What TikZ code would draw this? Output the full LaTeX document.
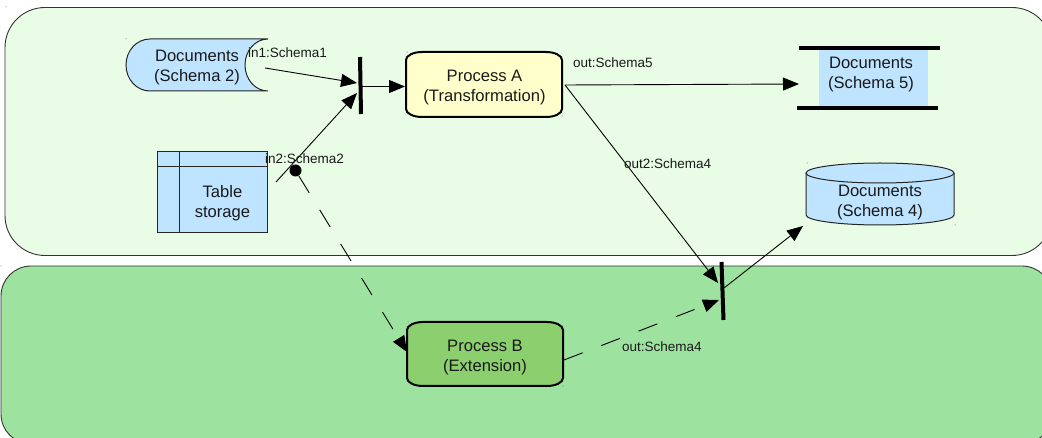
\documentclass[tikz,border=0pt]{standalone}
\usepackage{fontspec}
\setmainfont{Liberation Sans}
\usetikzlibrary{arrows.meta}
\definecolor{lightzone}{HTML}{E8FCE6}
\definecolor{darkzone}{HTML}{9DE39F}
\definecolor{docblue}{HTML}{BFE4FF}
\definecolor{procyellow}{HTML}{FFFFCC}
\definecolor{procgreen}{HTML}{8BCF6F}
\definecolor{ink}{HTML}{1A1A1A}
\tikzset{
  zone/.style={draw=black!80,line width=0.9pt},
  shapeline/.style={draw=black!85,line width=1pt},
  procline/.style={draw=black,line width=2pt},
  boxtext/.style={inner sep=0pt,align=center,text=ink,font=\fontsize{16.6}{20}\selectfont},
  plabel/.style={inner sep=0pt,text=ink,font=\fontsize{13.5}{16}\selectfont},
  flow/.style={draw=black,line width=0.9pt,-{Triangle[length=16pt,width=13pt]}},
  dashflow/.style={flow,dash pattern=on 20pt off 20pt},
  bar/.style={line width=4pt,draw=black},
}
\begin{document}
\begin{tikzpicture}[x=1pt,y=-1pt]
\useasboundingbox (0,0) rectangle (1042,438);
\clip (0,0) rectangle (1042,438);
% zones
\draw[zone,fill=lightzone,rounded corners=40pt] (5,7.5) rectangle (1052,255.5);
\draw[zone,fill=darkzone,rounded corners=30pt] (1,266) rectangle (1052,444);
% stored documents
\path[shapeline,fill=docblue] (268,39) -- (150,39) .. controls (136.7,39) and (126,50.6) .. (126,65)
  .. controls (126,79.4) and (136.7,91) .. (150,91) -- (268,91)
  .. controls (255.3,91) and (245,79.4) .. (245,65) .. controls (245,50.6) and (255.3,39) .. (268,39);
\node[boxtext] (docs2) at (197,68) {Documents\\(Schema 2)};
% table
\draw[shapeline,fill=docblue] (157.5,152) rectangle (267.5,233);
\draw[shapeline] (157.5,167) -- (267.5,167) (179,152) -- (179,233);
\node[boxtext] (table) at (222.5,203) {Table\\storage};
% process A
\path[procline,fill=procyellow] (422,52) -- (546,52) .. controls (554.8,52) and (562,55.6) .. (562,60) -- (562,109)
  .. controls (562,113.4) and (554.8,117) .. (546,117) -- (422,117) .. controls (413.2,117) and (406,113.4) .. (406,109) -- (406,60)
  .. controls (406,55.6) and (413.2,52) .. (422,52) -- cycle;
\node[boxtext] (procA) at (484.5,88) {Process A\\(Transformation)};
\coordinate (procAE) at (565,85);
\coordinate (procAW) at (405,86.5);
% process B
\path[procline,fill=procgreen] (423,322) -- (547,322) .. controls (555.8,322) and (563,325.6) .. (563,330) -- (563,378)
  .. controls (563,382.4) and (555.8,386) .. (547,386) -- (423,386) .. controls (414.2,386) and (407,382.4) .. (407,378) -- (407,330)
  .. controls (407,325.6) and (414.2,322) .. (423,322) -- cycle;
\node[boxtext] (procB) at (485,357.5) {Process B\\(Extension)};
\coordinate (procBW) at (407,352);
\coordinate (procBE) at (564,360);
% documents 5
\fill[docblue] (819,50) rectangle (928,107);
\draw[bar] (799,48.5) -- (940,48.5);
\draw[bar] (797,108.5) -- (938,108.5);
\node[boxtext] (docs5) at (871,75) {Documents\\(Schema 5)};
\coordinate (docs5W) at (799,84);
% cylinder
\path[shapeline,fill=docblue] (806,173) -- (806,215) .. controls (806,220.5) and (839,225) .. (880,225)
  .. controls (921,225) and (954,220.5) .. (954,215) -- (954,173);
\path[shapeline,fill=docblue] (880,173) ellipse[x radius=74,y radius=10];
\node[boxtext] (docs4) at (880,202.5) {Documents\\(Schema 4)};
\coordinate (docs4C) at (803,226);
% join bars
\coordinate (barAtop) at (360,57);
\coordinate (barAbot) at (361,114);
\coordinate (barAIn1) at (357,83);
\coordinate (barAIn2) at (357,93);
\coordinate (barAOut) at (362,86.5);
\draw[bar] (barAtop) -- (barAbot);
\coordinate (barBtop) at (721.5,262);
\coordinate (barBbot) at (723.5,320);
\coordinate (barBIn1) at (718,283);
\coordinate (barBIn2) at (719,300);
\coordinate (barBOut) at (724,288);
\draw[bar] (barBtop) -- (barBbot);
% connector ends
\coordinate (docs2E) at (265,68);
\coordinate (tableE) at (276,182);
\node[circle,fill=black,inner sep=0pt,minimum size=12pt] (split) at (295.5,170.5) {};
% connectors
\draw[flow] (docs2E) -- (barAIn1);
\draw[flow] (tableE) -- (barAIn2);
\draw[flow] (barAOut) -- (procAW);
\draw[flow] (procAE) -- (docs5W);
\draw[flow] (procAE) -- (barBIn1);
\draw[flow] (barBOut) -- (docs4C);
\draw[dashflow] (split) -- (procBW);
\draw[dashflow] (procBE) -- (barBIn2);
% labels
\node[plabel,anchor=west] (l1) at (248,53) {in1:Schema1};
\node[plabel,anchor=west] (l2) at (265,159) {in2:Schema2};
\node[plabel,anchor=west] (l3) at (573,63) {out:Schema5};
\node[plabel,anchor=west] (l4) at (624,163.5) {out2:Schema4};
\node[plabel,anchor=west] (l5) at (622,347) {out:Schema4};
% corner ticks
\foreach \p in {(6,7),(1,266),(126,39),(407,52),(562,116),(807,163),(955,225),(408,322),(563,386)}
  \fill[black!70] \p circle[radius=0.5pt];
\end{tikzpicture}
\end{document}
